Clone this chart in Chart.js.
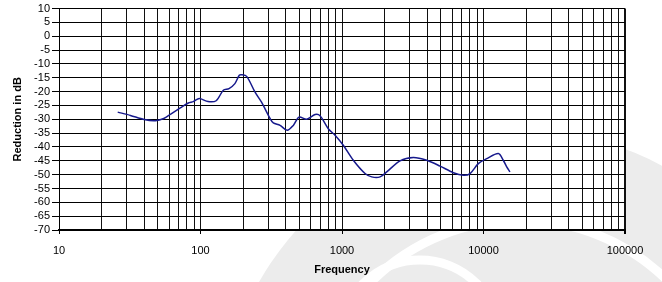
<!DOCTYPE html>
<html>
<head>
<meta charset="utf-8">
<script src="https://cdn.jsdelivr.net/npm/chart.js@4"></script>
<style>
  html, body { margin: 0; padding: 0; background: #fff; }
  #wrap { width: 662px; height: 282px; position: relative; }
</style>
</head>
<body>
<div id="wrap"><canvas id="chart"></canvas></div>
<script>
// Measured curve (frequency in Hz, reduction in dB)
const freqs = [26, 32, 40, 48, 55, 62, 72, 82, 89, 98, 113, 129, 145, 159, 175, 188, 195, 212,
    243, 270, 310, 327, 365, 410, 453, 497, 563, 645, 699, 800, 893, 1021, 1202, 1455, 1622,
    1858, 2071, 2570, 3192, 3967, 4929, 6124, 7210, 8035, 9190, 10540, 12740, 13800, 14590, 15390];
const reduction = [-27.4, -28.6, -30.1, -30.5, -29.7, -28.0, -25.9, -24.1, -23.6, -22.5, -23.6, -23.3, -19.5, -18.9, -17.1, -14.1, -13.9, -14.5,
    -20.2, -23.8, -29.7, -31.3, -32.2, -34.0, -32.2, -29.2, -30.0, -28.3, -28.7, -33.4, -35.8, -39.4, -44.8, -49.6, -50.8,
    -50.8, -49.0, -45.0, -43.8, -44.8, -46.9, -49.3, -50.2, -49.6, -46.0, -44.2, -42.4, -44.8, -47.2, -49.0];

// Axis ticks
const xDecades = [10, 100, 1000, 10000, 100000];
const xMultipliers = [1, 2, 3, 4, 5, 6, 7, 8, 9];
const yMin = -70;
const yMax = 10;
const yStep = 5;

// Grid values for the log axis: every 1..9 multiple of each decade
const xGridValues = [];
xDecades.slice(0, -1).forEach((d) => {
    xMultipliers.forEach((m) => xGridValues.push(d * m));
});
xGridValues.push(xDecades[xDecades.length - 1]);

const points = freqs.map((f, i) => ({ x: f, y: reduction[i] }));

// Faint watermark behind the plot, white plot background
const backdrop = {
    id: 'backdrop',
    beforeDraw(chart) {
        const { ctx, chartArea: a } = chart;
        ctx.save();
        ctx.fillStyle = '#fff';
        ctx.fillRect(0, 0, chart.width, chart.height);
        ctx.fillStyle = '#ececec';
        ctx.beginPath();
        ctx.arc(520, 430, 300, 0, Math.PI * 2);
        ctx.fill();
        ctx.strokeStyle = '#fff';
        ctx.lineWidth = 9;
        ctx.beginPath();
        ctx.arc(520, 430, 210, 0, Math.PI * 2);
        ctx.stroke();
        ctx.beginPath();
        ctx.arc(420, 340, 80, 0, Math.PI * 2);
        ctx.stroke();
        ctx.fillStyle = '#fff';
        ctx.fillRect(a.left, a.top, a.right - a.left, a.bottom - a.top);
        ctx.restore();
    }
};

const font = { family: '"Liberation Sans", Arial, sans-serif', size: 11 };

new Chart(document.getElementById('chart'), {
    type: 'line',
    data: {
        datasets: [{
            data: points,
            borderColor: '#16198c',
            borderWidth: 1.5,
            pointRadius: 0,
            fill: false,
            tension: 0.3
        }]
    },
    options: {
        responsive: true,
        maintainAspectRatio: false,
        animation: false,
        layout: { padding: { top: 8, right: 37, bottom: 0, left: 0 } },
        plugins: {
            legend: { display: false },
            tooltip: { enabled: false }
        },
        scales: {
            x: {
                type: 'logarithmic',
                min: 10,
                max: 100000,
                afterBuildTicks: (scale) => {
                    scale.ticks = xGridValues.map((v) => ({ value: v }));
                },
                afterFit: (scale) => { scale.height = 52; },
                ticks: {
                    autoSkip: false,
                    maxRotation: 0,
                    minRotation: 0,
                    padding: 10,
                    color: '#000',
                    font: font,
                    callback: (v) => xDecades.includes(v) ? String(v) : ''
                },
                grid: {
                    color: '#111',
                    lineWidth: (ctx) => (ctx.tick && ctx.tick.value === 100000) ? 2 : 1,
                    tickLength: 4,
                    tickColor: (ctx) => (ctx.tick && xDecades.includes(ctx.tick.value)) ? '#000' : 'rgba(0,0,0,0)'
                },
                border: { color: '#000', width: 2 },
                title: {
                    display: true,
                    text: 'Frequency',
                    color: '#000',
                    font: { ...font, weight: 'bold' },
                    padding: { top: 0, bottom: 5 }
                }
            },
            y: {
                min: yMin,
                max: yMax,
                afterFit: (scale) => { scale.width = 59; },
                ticks: {
                    stepSize: yStep,
                    autoSkip: false,
                    padding: 2,
                    color: '#000',
                    font: font
                },
                grid: {
                    color: '#000',
                    lineWidth: 1,
                    tickLength: 7
                },
                border: { color: '#000', width: 1 },
                title: {
                    display: true,
                    text: 'Reduction in dB',
                    color: '#000',
                    font: { ...font, weight: 'bold' },
                    padding: { top: 11, bottom: 0 }
                }
            }
        }
    },
    plugins: [backdrop]
});
</script>
</body>
</html>
